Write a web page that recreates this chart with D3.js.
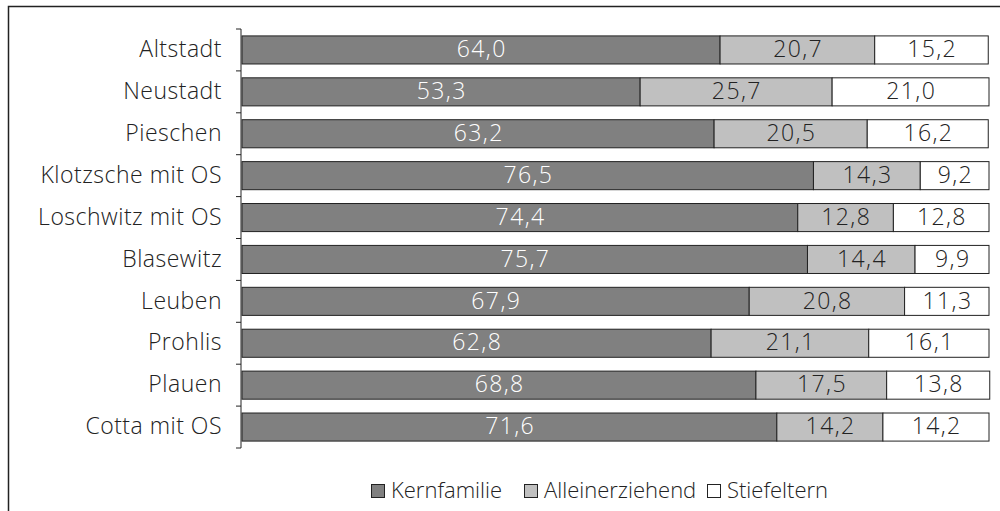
<!DOCTYPE html>
<html><head><meta charset="utf-8">
<script src="https://cdn.jsdelivr.net/npm/d3@7"></script>
<style>body{margin:0;background:#fff;}svg{display:block;font-family:"Open Sans","Liberation Sans",Arial,sans-serif;}</style>
</head><body>
<svg id="c" width="1000" height="511"></svg>
<script>
const categories = ["Altstadt","Neustadt","Pieschen","Klotzsche mit OS","Loschwitz mit OS","Blasewitz","Leuben","Prohlis","Plauen","Cotta mit OS"];
const kernfamilie = [64.0,53.3,63.2,76.5,74.4,75.7,67.9,62.8,68.8,71.6];
const alleinerziehend = [20.7,25.7,20.5,14.3,12.8,14.4,20.8,21.1,17.5,14.2];
const stiefeltern = [15.2,21.0,16.2,9.2,12.8,9.9,11.3,16.1,13.8,14.2];
const seriesNames = ["Kernfamilie","Alleinerziehend","Stiefeltern"];
const colors = ["#808080","#c0c0c0","#ffffff"];
const textColors = ["#ffffff","#222222","#222222"];

const svg = d3.select("#c");
svg.append("rect").attr("x",8.5).attr("y",6.5).attr("width",1100).attr("height",600)
  .attr("fill","none").attr("stroke","#222").attr("stroke-width",1.5);

const x = d3.scaleLinear().domain([0,100]).range([242,989]);
const y = d3.scaleBand().domain(categories).range([29,448]).paddingInner(0.33).paddingOuter(0.165);

const rows = categories.map((c,i)=>({cat:c, vals:[kernfamilie[i],alleinerziehend[i],stiefeltern[i]]}));
const fmt = v => v.toFixed(1).replace(".",",");

rows.forEach(r=>{
  let acc=0;
  r.vals.forEach((v,j)=>{
    const x0=x(acc), x1=x(acc+v);
    svg.append("rect").attr("x",x0).attr("y",y(r.cat)).attr("width",x1-x0).attr("height",y.bandwidth())
      .attr("fill",colors[j]).attr("stroke","#222").attr("stroke-width",1);
    svg.append("text").attr("x",(x0+x1)/2+0.7).attr("y",y(r.cat)+y.bandwidth()/2+1)
      .attr("text-anchor","middle").attr("dominant-baseline","middle")
      .attr("font-size",23).attr("letter-spacing",1.4).attr("font-weight",300)
      .attr("fill",textColors[j]).text(fmt(v));
    acc+=v;
  });
});

// axis
const ax = svg.append("g").attr("transform","translate(241,0)");
ax.append("line").attr("x1",0).attr("x2",0).attr("y1",29).attr("y2",448).attr("stroke","#222");
const edges = d3.range(categories.length+1).map(i=>29+i*y.step());
edges.forEach(e=>ax.append("line").attr("x1",-5).attr("x2",0).attr("y1",e).attr("y2",e).attr("stroke","#222"));
categories.forEach(c=>{
  svg.append("text").attr("x",222).attr("y",y(c)+y.bandwidth()/2+1).attr("text-anchor","end")
    .attr("dominant-baseline","middle").attr("font-size",23).attr("letter-spacing",0.5)
    .attr("font-weight",300).attr("fill","#222").text(c);
});

// legend
const legendX = [371, 524, 707];
seriesNames.forEach((n,i)=>{
  svg.append("rect").attr("x",legendX[i]+0.5).attr("y",484.5).attr("width",13).attr("height",13)
    .attr("fill",colors[i]).attr("stroke","#222").attr("stroke-width",1);
  svg.append("text").attr("x",legendX[i]+20).attr("y",498).attr("font-size",22).attr("font-weight",300).attr("fill","#222").text(n);
});
</script>
</body></html>
